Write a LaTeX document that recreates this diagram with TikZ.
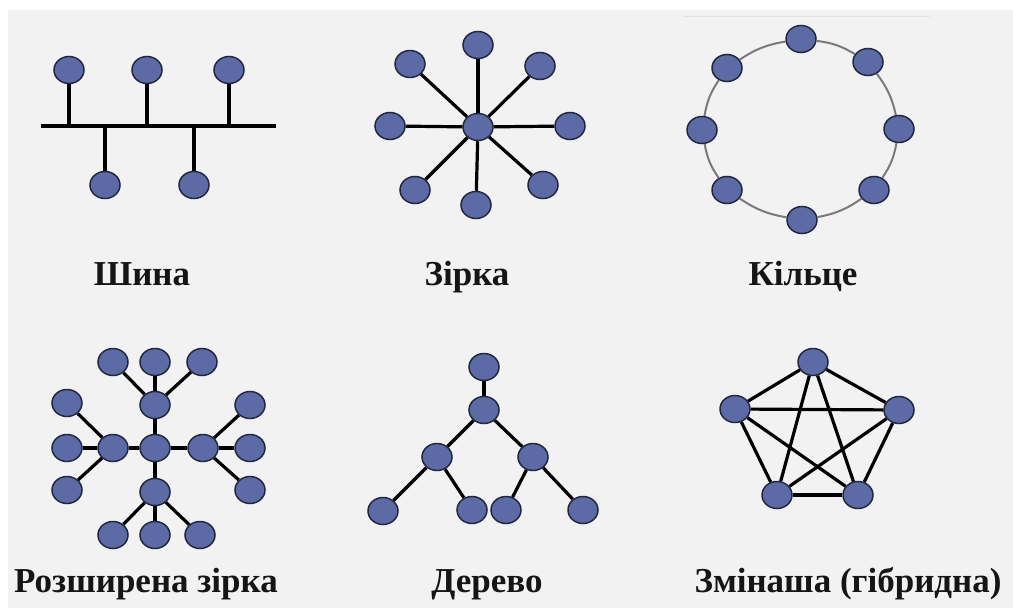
\documentclass[tikz,border=0pt]{standalone}
\usepackage{fontspec}
\setmainfont{Liberation Serif}
\usetikzlibrary{shapes.geometric}
\definecolor{bg}{HTML}{F2F2F2}
\definecolor{nodefill}{HTML}{5C6BA6}
\definecolor{nodeedge}{HTML}{232841}
\definecolor{ringline}{HTML}{7A7A7A}
\definecolor{txt}{HTML}{151515}
\definecolor{faint}{HTML}{E2E2E2}
\tikzset{
  nd/.style={ellipse, fill=nodefill, draw=nodeedge, line width=1.5pt,
    minimum width=30pt, minimum height=27pt, inner sep=0pt},
  link/.style={line width=3.2pt, black},
  ringlink/.style={line width=2pt, ringline},
  lbl/.style={font=\bfseries\fontsize{35}{40}\selectfont, text=txt, inner sep=0pt, anchor=base}
}
\begin{document}
\begin{tikzpicture}[x=1pt,y=-1pt]
\useasboundingbox (0,0) rectangle (1013,608);
\fill[white] (0,0) rectangle (1013,608);
\fill[bg] (8,10) rectangle (1013,608);
\coordinate (fl1) at (683,16);
\coordinate (fl2) at (930,16);
\draw[faint, line width=1pt] (fl1) -- (fl2);

% ---------- Bus ----------
\coordinate (busL) at (41,126);
\coordinate (busR) at (276,126);
\coordinate (j1) at (69,126);
\coordinate (j2) at (147,126);
\coordinate (j3) at (229,126);
\coordinate (j4) at (105,126);
\coordinate (j5) at (194,126);
\draw[link] (busL) -- (busR);
\node[nd] (bt1) at (69,70) {};
\node[nd] (bt2) at (147,70) {};
\node[nd] (bt3) at (229,70) {};
\node[nd] (bb1) at (105,185) {};
\node[nd] (bb2) at (194,185) {};
\draw[link] (bt1) -- (j1);
\draw[link] (bt2) -- (j2);
\draw[link] (bt3) -- (j3);
\draw[link] (bb1) -- (j4);
\draw[link] (bb2) -- (j5);
\node[lbl] (lbus) at (142,285) {Шина};

% ---------- Star ----------
\node[nd] (sc) at (478,127) {};
\node[nd] (s1) at (478,45) {};
\node[nd] (s2) at (410,64) {};
\node[nd] (s3) at (540,66) {};
\node[nd] (s4) at (390,126) {};
\node[nd] (s5) at (570,126) {};
\node[nd] (s6) at (415,190) {};
\node[nd] (s7) at (476,205) {};
\node[nd] (s8) at (543,185) {};
\foreach \n in {s1,s2,s3,s4,s5,s6,s7,s8} \draw[link] (sc) -- (\n);
\node[lbl] (lstar) at (467,285) {Зірка};

% ---------- Ring ----------
\node[nd] (r1) at (801,39) {};
\node[nd] (r2) at (868,62) {};
\node[nd] (r3) at (899,129) {};
\node[nd] (r4) at (874,190) {};
\node[nd] (r5) at (802,220) {};
\node[nd] (r6) at (727,190) {};
\node[nd] (r7) at (702,130) {};
\node[nd] (r8) at (727,68) {};
\draw[ringlink] (r1) to[bend left=12] (r2);
\draw[ringlink] (r2) to[bend left=12] (r3);
\draw[ringlink] (r3) to[bend left=12] (r4);
\draw[ringlink] (r4) to[bend left=12] (r5);
\draw[ringlink] (r5) to[bend left=12] (r6);
\draw[ringlink] (r6) to[bend left=12] (r7);
\draw[ringlink] (r7) to[bend left=12] (r8);
\draw[ringlink] (r8) to[bend left=12] (r1);
\node[lbl] (lring) at (803,285) {Кільце};

% ---------- Extended star ----------
\node[nd] (ec) at (155,448) {};
\node[nd] (eT) at (155,405) {};
\node[nd] (eL) at (113,448) {};
\node[nd] (eR) at (203,448) {};
\node[nd] (eB) at (155,492) {};
\node[nd] (eT1) at (113,362) {};
\node[nd] (eT2) at (155,362) {};
\node[nd] (eT3) at (202,362) {};
\node[nd] (eL1) at (67,403) {};
\node[nd] (eL2) at (67,448) {};
\node[nd] (eL3) at (67,490) {};
\node[nd] (eR1) at (250,405) {};
\node[nd] (eR2) at (250,448) {};
\node[nd] (eR3) at (250,490) {};
\node[nd] (eB1) at (113,535) {};
\node[nd] (eB2) at (155,535) {};
\node[nd] (eB3) at (200,535) {};
\foreach \h in {eT,eL,eR,eB} \draw[link] (ec) -- (\h);
\foreach \l in {eT1,eT2,eT3} \draw[link] (eT) -- (\l);
\foreach \l in {eL1,eL2,eL3} \draw[link] (eL) -- (\l);
\foreach \l in {eR1,eR2,eR3} \draw[link] (eR) -- (\l);
\foreach \l in {eB1,eB2,eB3} \draw[link] (eB) -- (\l);
\node[lbl] (lext) at (146,592) {Розширена зірка};

% ---------- Tree ----------
\node[nd] (t0) at (484,367) {};
\node[nd] (t1) at (484,410) {};
\node[nd] (t2) at (437,457) {};
\node[nd] (t3) at (533,457) {};
\node[nd] (t4) at (383,511) {};
\node[nd] (t5) at (472,510) {};
\node[nd] (t6) at (506,510) {};
\node[nd] (t7) at (583,510) {};
\draw[link] (t0) -- (t1);
\draw[link] (t1) -- (t2);
\draw[link] (t1) -- (t3);
\draw[link] (t2) -- (t4);
\draw[link] (t2) -- (t5);
\draw[link] (t3) -- (t6);
\draw[link] (t3) -- (t7);
\node[lbl] (ltree) at (487,592) {Дерево};

% ---------- Mesh ----------
\node[nd] (m1) at (813,362) {};
\node[nd] (m2) at (899,410) {};
\node[nd] (m3) at (858,495) {};
\node[nd] (m4) at (777,495) {};
\node[nd] (m5) at (735,409) {};
\foreach \a/\b in {m1/m2,m1/m3,m1/m4,m1/m5,m2/m3,m2/m4,m2/m5,m3/m4,m3/m5,m4/m5}
  \draw[link] (\a) -- (\b);
\node[lbl] (lmesh) at (848,592) {Змінаша (гібридна)};
\end{tikzpicture}
\end{document}
